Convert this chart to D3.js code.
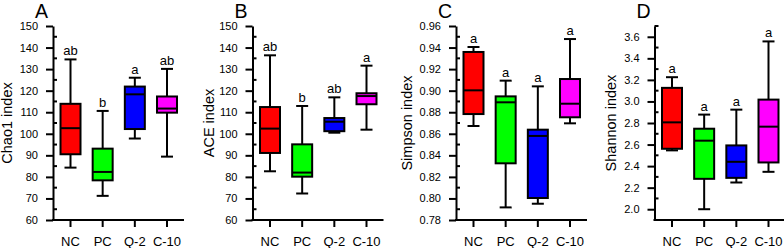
<!DOCTYPE html>
<html>
<head>
<meta charset="utf-8">
<script src="https://cdn.jsdelivr.net/npm/d3@7"></script>
<style>
  body { margin: 0; background: #fff; }
  text { font-family: Arial, "Liberation Sans", sans-serif; fill: #000; }
</style>
</head>
<body>
<script>
const width = 784;
const height = 248;

const groups = ["NC", "PC", "Q-2", "C-10"];
const colors = ["#ff0000", "#00ff00", "#0000ff", "#ff00ff"];

// each box: [whisker low, Q1, median, Q3, whisker high]
const chao1 = [
  [84.3, 90.5, 102.6, 113.9, 134.5],
  [71.2, 78.4, 82.3, 93.1, 110.6],
  [97.8, 102.2, 118.3, 121.9, 126.0],
  [89.4, 109.8, 111.7, 117.3, 130.1]
];
const ace = [
  [82.6, 91.1, 102.4, 112.4, 136.4],
  [72.3, 80.1, 82.0, 95.1, 112.9],
  [100.5, 101.2, 105.6, 107.3, 116.9],
  [101.9, 113.7, 117.5, 118.8, 131.6]
];
const simpson = [
  [0.8672, 0.8783, 0.9003, 0.9359, 0.9405],
  [0.7917, 0.8326, 0.8892, 0.8947, 0.9093],
  [0.7951, 0.8004, 0.8580, 0.8638, 0.9040],
  [0.8697, 0.8753, 0.8879, 0.9108, 0.9479]
];
const shannon = [
  [2.546, 2.561, 2.806, 3.126, 3.225],
  [2.000, 2.282, 2.636, 2.747, 2.878],
  [2.248, 2.291, 2.440, 2.592, 2.924],
  [2.347, 2.434, 2.766, 3.017, 3.557]
];

const chao1Letters = ["ab", "b", "a", "ab"];
const aceLetters = ["ab", "b", "ab", "a"];
const simpsonLetters = ["a", "a", "a", "a"];
const shannonLetters = ["a", "a", "a", "a"];

const panels = [
  { tag: "A", title: "Chao1 index", data: chao1, letters: chao1Letters,
    x0: 53, domain: [60, 150], major: 10, minor: 5, fmt: d3.format("d"), titleOff: 41 },
  { tag: "B", title: "ACE index", data: ace, letters: aceLetters,
    x0: 252.5, domain: [60, 150], major: 10, minor: 5, fmt: d3.format("d"), titleOff: 39 },
  { tag: "C", title: "Simpson index", data: simpson, letters: simpsonLetters,
    x0: 456, domain: [0.78, 0.96], major: 0.02, minor: 0.01, fmt: d3.format(".2f"), titleOff: 44.5 },
  { tag: "D", title: "Shannon index", data: shannon, letters: shannonLetters,
    x0: 654.5, domain: [1.9, 3.7], major: 0.2, minor: 0.1, fmt: d3.format(".1f"), titleOff: 39, majorStart: 2.0 }
];

const plotTop = 26, plotBottom = 220, axisLen = 131;
const boxW = 20, capW = 12;

const svg = d3.select("body").append("svg")
  .attr("width", width)
  .attr("height", height);

function steps(lo, hi, step) {
  const n = Math.floor((hi - lo) / step + 1e-6);
  return d3.range(n + 1).map(i => +(lo + i * step).toFixed(4));
}

panels.forEach(function(p) {
  const g = svg.append("g").attr("transform", "translate(" + p.x0 + ",0)");

  const y = d3.scaleLinear().domain(p.domain).range([plotBottom, plotTop]);
  const x = d3.scalePoint().domain(groups).range([17.5, 114]);

  const majors = steps(p.majorStart || p.domain[0], p.domain[1], p.major);
  const minors = steps(p.domain[0], p.domain[1], p.minor)
    .filter(v => !majors.some(m => Math.abs(m - v) < 1e-6));

  // y axis with outward major ticks
  const yAxis = d3.axisLeft(y).tickValues(majors).tickFormat(p.fmt)
    .tickSize(7).tickSizeOuter(0).tickPadding(8);
  const ya = g.append("g").call(yAxis);
  ya.select(".domain").attr("stroke-width", 2);
  ya.selectAll(".tick line").attr("stroke-width", 2);
  ya.selectAll(".tick text").attr("font-size", 11).attr("font-family", "Arial, 'Liberation Sans', sans-serif");

  // inward minor ticks
  g.selectAll(".minor").data(minors).join("line")
    .attr("x1", 0).attr("x2", 4)
    .attr("y1", d => y(d)).attr("y2", d => y(d))
    .attr("stroke", "#000").attr("stroke-width", 2);

  // x axis
  g.append("line")
    .attr("x1", -1).attr("x2", axisLen)
    .attr("y1", plotBottom).attr("y2", plotBottom)
    .attr("stroke", "#000").attr("stroke-width", 2);
  g.selectAll(".xt").data(groups).join("line")
    .attr("x1", d => x(d)).attr("x2", d => x(d))
    .attr("y1", plotBottom).attr("y2", plotBottom + 7)
    .attr("stroke", "#000").attr("stroke-width", 2);
  g.selectAll(".xl").data(groups).join("text")
    .attr("x", d => x(d)).attr("y", plotBottom + 26)
    .attr("text-anchor", "middle").attr("font-size", 13)
    .text(d => d);

  // boxes
  p.data.forEach(function(b, i) {
    const cx = x(groups[i]);
    const bg = g.append("g");
    bg.append("line")
      .attr("x1", cx).attr("x2", cx)
      .attr("y1", y(b[0])).attr("y2", y(b[4]))
      .attr("stroke", "#000").attr("stroke-width", 2);
    [b[0], b[4]].forEach(function(v) {
      bg.append("line")
        .attr("x1", cx - capW / 2).attr("x2", cx + capW / 2)
        .attr("y1", y(v)).attr("y2", y(v))
        .attr("stroke", "#000").attr("stroke-width", 2);
    });
    bg.append("rect")
      .attr("x", cx - boxW / 2).attr("width", boxW)
      .attr("y", y(b[3])).attr("height", y(b[1]) - y(b[3]))
      .attr("fill", colors[i]).attr("stroke", "#000").attr("stroke-width", 2);
    bg.append("line")
      .attr("x1", cx - boxW / 2).attr("x2", cx + boxW / 2)
      .attr("y1", y(b[2])).attr("y2", y(b[2]))
      .attr("stroke", "#000").attr("stroke-width", 2);
    bg.append("text")
      .attr("x", cx).attr("y", y(b[4]) - 4)
      .attr("text-anchor", "middle").attr("font-size", 13)
      .text(p.letters[i]);
  });

  // axis title
  g.append("text")
    .attr("transform", "translate(" + (-p.titleOff) + "," + ((plotTop + plotBottom) / 2) + ") rotate(-90)")
    .attr("text-anchor", "middle").attr("font-size", 14.5)
    .text(p.title);

  // panel letter
  g.append("text")
    .attr("x", -18).attr("y", 17.5)
    .attr("font-size", 19.5)
    .text(p.tag);
});
</script>
</body>
</html>
